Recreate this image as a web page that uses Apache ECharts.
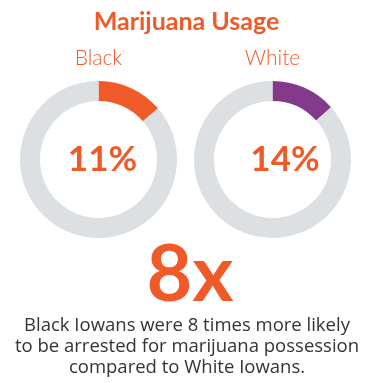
<!DOCTYPE html>
<html>
<head>
<meta charset="utf-8">
<script src="https://cdn.jsdelivr.net/npm/echarts@6/dist/echarts.min.js"></script>
<style>
  html, body { margin: 0; padding: 0; background: #fff; }
  #chart { width: 365px; height: 383px; }
</style>
</head>
<body>
<div id="chart"></div>
<script>
  // groups shown as two donuts
  var groups = ['Black', 'White'];
  // share of the ring that is filled, as drawn (percent)
  var arcShare = [13.7, 13.4];
  // printed numbers in the middle of each ring
  var centerLabels = ['11%', '14%'];
  var arcColors = ['#F05A28', '#833A8A'];

  var bigNumber = '8x';
  var bodyLines = [
    'Black Iowans were 8 times more likely',
    'to be arrested for marijuana possession',
    'compared to White Iowans.'
  ];

  var orange = '#F05A28';
  var ringGray = '#DDE0E3';
  var font = 'Lato, "Open Sans", sans-serif';
  var bodyFont = '"Open Sans", Lato, sans-serif';

  var centersX = [98.5, 272.5];
  var labelX = [102.5, 285];

  var myChart = echarts.init(document.getElementById('chart'));

  var series = groups.map(function (g, i) {
    return {
      name: g,
      type: 'pie',
      radius: [58.5, 78.5],
      center: [centersX[i], 159.5],
      startAngle: 90,
      clockwise: true,
      silent: true,
      label: { show: false },
      labelLine: { show: false },
      itemStyle: { borderWidth: 0 },
      data: [
        { value: arcShare[i], itemStyle: { color: arcColors[i] } },
        { value: 100 - arcShare[i], itemStyle: { color: ringGray } }
      ]
    };
  });

  var texts = [
    { type: 'text', x: 186.5, y: 22, style: { text: 'Marijuana Usage', fill: orange, font: 'bold 25px ' + font, align: 'center', verticalAlign: 'middle' } }
  ];
  groups.forEach(function (g, i) {
    texts.push({ type: 'text', x: centersX[i], y: 58.7, style: { text: g, fill: orange, font: '300 21px ' + font, align: 'center', verticalAlign: 'middle' } });
    texts.push({ type: 'text', x: labelX[i], y: 160, style: { text: centerLabels[i], fill: orange, font: 'bold 35px ' + font, align: 'center', verticalAlign: 'middle' } });
  });
  texts.push({ type: 'text', x: 190, y: 276, style: { text: bigNumber, fill: orange, font: 'bold 79px ' + font, align: 'center', verticalAlign: 'middle' } });
  bodyLines.forEach(function (t, i) {
    texts.push({ type: 'text', x: 187, y: 325.5 + i * 21, style: { text: t, fill: '#333333', font: '18.5px ' + bodyFont, align: 'center', verticalAlign: 'middle' } });
  });

  myChart.setOption({
    animation: false,
    backgroundColor: '#ffffff',
    series: series,
    graphic: texts
  });
</script>
</body>
</html>
